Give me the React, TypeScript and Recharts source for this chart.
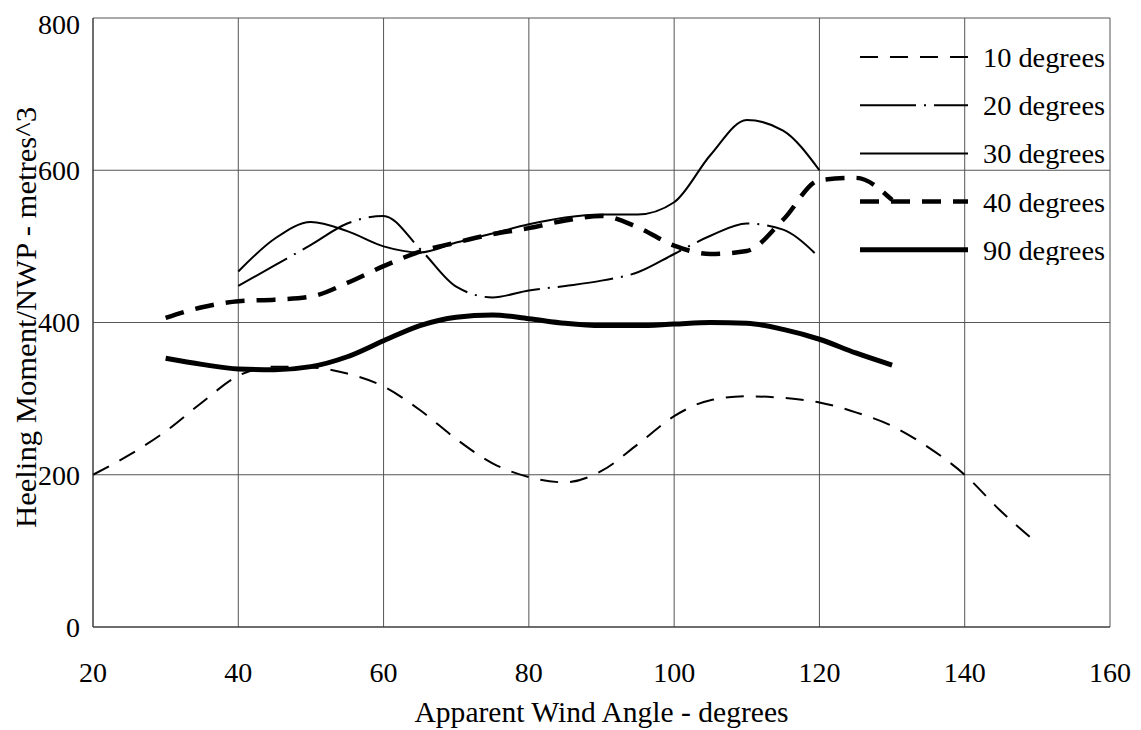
import React from 'react';
import {
  LineChart,
  Line,
  XAxis,
  YAxis,
  CartesianGrid,
  Legend,
} from 'recharts';

const angles = [20, 25, 30, 35, 40, 45, 50, 55, 60, 65, 70, 75, 80, 85, 90, 95, 100, 105, 110, 115, 120, 125, 130, 135, 140, 145, 150];

const deg10 = [200, 226, 257, 295, 330, 342, 341, 333, 316, 285, 247, 215, 197, 190, 205, 240, 277, 298, 303, 301, 295, 282, 264, 236, 200, 152, 110];
const deg20 = [null, null, null, null, 448, 475, 502, 530, 540, 497, 447, 433, 442, 448, 455, 466, 490, 514, 530, 522, 485, null, null, null, null, null, null];
const deg30 = [null, null, null, null, 467, 510, 532, 520, 500, 492, 505, 517, 529, 538, 542, 542, 558, 620, 666, 652, 600, null, null, null, null, null, null];
const deg40 = [null, null, 406, 420, 428, 430, 434, 452, 474, 493, 505, 516, 524, 534, 540, 525, 501, 490, 494, 535, 587, 590, 561, null, null, null, null];
const deg90 = [null, null, 353, 345, 339, 338, 342, 355, 376, 396, 407, 410, 405, 399, 396, 396, 398, 400, 399, 391, 378, 360, 344, null, null, null, null];

const xTicks = [20, 40, 60, 80, 100, 120, 140, 160];
const yTicks = [0, 200, 400, 600, 800];

const data = angles.map((angle, i) => ({
  angle,
  deg10: deg10[i],
  deg20: deg20[i],
  deg30: deg30[i],
  deg40: deg40[i],
  deg90: deg90[i],
}));

const series = [
  { key: 'deg10', name: '10 degrees', width: 2, dash: '18 12' },
  { key: 'deg20', name: '20 degrees', width: 2, dash: '56 8 2 8' },
  { key: 'deg30', name: '30 degrees', width: 2, dash: undefined },
  { key: 'deg40', name: '40 degrees', width: 4.5, dash: '19 12' },
  { key: 'deg90', name: '90 degrees', width: 5, dash: undefined },
];

const FONT = '"Liberation Serif", "Times New Roman", serif';

const LegendBox = () => (
  <svg width={270} height={235}>
    {series.map((s, i) => {
      const y = 27 + i * 48.2;
      return (
        <g key={s.key}>
          <line x1={8} x2={116} y1={y} y2={y} stroke="#000" strokeWidth={s.width} strokeDasharray={s.dash} />
          <text
            x={131}
            y={y + 10}
            fontSize={28}
            fontFamily={FONT}
            fill="#000"
            textLength={122}
            lengthAdjust="spacingAndGlyphs"
          >
            {s.name}
          </text>
        </g>
      );
    })}
  </svg>
);

export default function App() {
  return (
    <LineChart
      width={1125}
      height={722}
      data={data}
      margin={{ top: 10, right: 23, left: 0, bottom: 0 }}
      style={{ fontFamily: FONT }}
    >
      <CartesianGrid stroke="#555" strokeWidth={1} />
      <XAxis
        type="number"
        dataKey="angle"
        domain={[20, 160]}
        ticks={xTicks}
        height={103}
        tickSize={0}
        tickMargin={35}
        axisLine={{ stroke: '#333' }}
        tick={{ fontSize: 28, fill: '#000', fontFamily: FONT }}
        label={(props: any) => {
          const vb = props.viewBox;
          const cx = vb.x + vb.width / 2;
          return (
            <text
              x={cx}
              y={vb.y + 95}
              textAnchor="middle"
              fontSize={29}
              fontFamily={FONT}
              fill="#000"
              textLength={374}
              lengthAdjust="spacingAndGlyphs"
            >
              Apparent Wind Angle - degrees
            </text>
          );
        }}
      />
      <YAxis
        type="number"
        domain={[0, 800]}
        ticks={yTicks}
        width={85}
        tickSize={0}
        tickMargin={13}
        axisLine={{ stroke: '#333' }}
        tick={{ fontSize: 28, fill: '#000', fontFamily: FONT }}
        label={(props: any) => {
          const vb = props.viewBox;
          const cx = 17;
          const cy = vb.y + vb.height / 2 - 5;
          return (
            <text
              x={cx}
              y={cy}
              transform={`rotate(-90 ${cx} ${cy})`}
              textAnchor="middle"
              dominantBaseline="central"
              fontSize={30}
              fontFamily={FONT}
              fill="#000"
              textLength={421}
              lengthAdjust="spacingAndGlyphs"
            >
              Heeling Moment/NWP - metres^3
            </text>
          );
        }}
      />
      <Legend
        layout="vertical"
        align="center"
        verticalAlign="middle"
        wrapperStyle={{ left: 844, top: 22, width: 270 }}
        content={() => <LegendBox />}
      />
      {series.map((s) => (
        <Line
          key={s.key}
          type="monotone"
          dataKey={s.key}
          name={s.name}
          stroke="#000"
          strokeWidth={s.width}
          strokeDasharray={s.dash}
          dot={false}
          activeDot={false}
          isAnimationActive={false}
        />
      ))}
    </LineChart>
  );
}
